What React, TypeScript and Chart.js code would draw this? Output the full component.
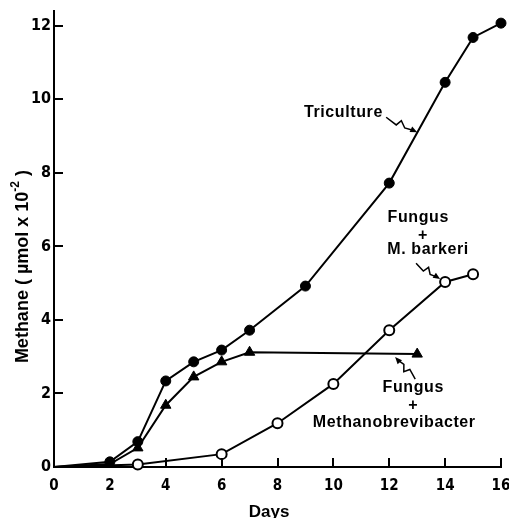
import React, { useEffect, useRef } from "react";
import { Chart, registerables } from "chart.js";

Chart.register(...registerables);

// ---- data ----
const xTickValues = [0, 2, 4, 6, 8, 10, 12, 14, 16];
const yTickValues = [0, 2, 4, 6, 8, 10, 12];

const triDays = [0, 2, 3, 4, 5, 6, 7, 9, 12, 14, 15, 16];
const triValues = [0, 0.14, 0.69, 2.34, 2.86, 3.18, 3.72, 4.92, 7.72, 10.46, 11.68, 12.07];

const brevDays = [0, 2, 3, 4, 5, 6, 7, 13];
const brevValues = [0, 0.08, 0.52, 1.68, 2.45, 2.86, 3.12, 3.07];

const barkDays = [0, 3, 6, 8, 10, 12, 14, 15];
const barkValues = [0, 0.07, 0.35, 1.19, 2.26, 3.72, 5.03, 5.24];

// annotation labels, in data coordinates (days, methane)
const labelTexts = ["Triculture", "Fungus", "+", "M. barkeri", "Fungus", "+", "Methanobrevibacter"];
const labelX = [10.36, 13.04, 13.21, 13.39, 12.86, 12.86, 12.18];
const labelY = [9.65, 6.77, 6.28, 5.9, 2.17, 1.66, 1.2];

// squiggle arrows: start -> end, in data coordinates
const arrowFromX = [11.89, 12.96, 12.93];
const arrowFromY = [9.51, 5.54, 2.39];
const arrowToX = [13.0, 13.82, 12.21];
const arrowToY = [9.1, 5.11, 2.99];

const FONT_BOLD = '"Liberation Sans", Arial, Helvetica, sans-serif';
const FONT_NARROW = '"Liberation Sans Narrow", "DejaVu Sans Condensed", "Roboto Condensed", "Liberation Sans", sans-serif';

const toPoints = (xs: number[], ys: number[]) => xs.map((x, i) => ({ x, y: ys[i] }));

const decorPlugin = {
  id: "decor",
  afterDraw(chart: any) {
    const { ctx, chartArea } = chart;
    const xs = chart.scales.x;
    const ys = chart.scales.y;
    ctx.save();
    ctx.strokeStyle = "#000";
    ctx.fillStyle = "#000";
    ctx.lineWidth = 2;

    // inward tick marks
    const tl = 9;
    xTickValues.forEach((v) => {
      if (v === 0) return;
      const px = Math.round(xs.getPixelForValue(v));
      ctx.beginPath();
      ctx.moveTo(px, chartArea.bottom);
      ctx.lineTo(px, chartArea.bottom - tl);
      ctx.stroke();
    });
    yTickValues.forEach((v) => {
      if (v === 0) return;
      const py = Math.round(ys.getPixelForValue(v));
      ctx.beginPath();
      ctx.moveTo(chartArea.left, py);
      ctx.lineTo(chartArea.left + tl, py);
      ctx.stroke();
    });

    // annotation labels
    ctx.font = `bold 16px ${FONT_BOLD}`;
    try {
      (ctx as any).letterSpacing = "0.6px";
    } catch (e) {}
    ctx.textAlign = "center";
    ctx.textBaseline = "middle";
    labelTexts.forEach((t, i) => {
      ctx.fillText(t, xs.getPixelForValue(labelX[i]), ys.getPixelForValue(labelY[i]));
    });
    try {
      (ctx as any).letterSpacing = "0px";
    } catch (e) {}

    // squiggle arrows
    ctx.lineWidth = 1.5;
    arrowFromX.forEach((_, i) => {
      const sx = xs.getPixelForValue(arrowFromX[i]);
      const sy = ys.getPixelForValue(arrowFromY[i]);
      const ex = xs.getPixelForValue(arrowToX[i]);
      const ey = ys.getPixelForValue(arrowToY[i]);
      const dx = ex - sx;
      const dy = ey - sy;
      const L = Math.hypot(dx, dy);
      const ux = dx / L;
      const uy = dy / L;
      const nx = -uy;
      const ny = ux;
      const pt = (t: number, o: number) => [sx + ux * L * t + nx * o, sy + uy * L * t + ny * o];
      const pts = [pt(0, 0), pt(0.36, 2.5), pt(0.44, -3.5), pt(0.62, 1.5), pt(0.86, 0)];
      ctx.beginPath();
      ctx.moveTo(pts[0][0], pts[0][1]);
      for (let k = 1; k < pts.length; k++) ctx.lineTo(pts[k][0], pts[k][1]);
      ctx.stroke();
      // arrow head
      const hl = 7;
      const hw = 3;
      ctx.beginPath();
      ctx.moveTo(ex, ey);
      ctx.lineTo(ex - ux * hl + nx * hw, ey - uy * hl + ny * hw);
      ctx.lineTo(ex - ux * hl - nx * hw, ey - uy * hl - ny * hw);
      ctx.closePath();
      ctx.fill();
    });

    // x axis title
    ctx.font = `bold 17px ${FONT_BOLD}`;
    ctx.textAlign = "center";
    ctx.textBaseline = "middle";
    ctx.fillText("Days", xs.getPixelForValue(7.7), chartArea.bottom + 45);

    // y axis title with superscript
    ctx.save();
    ctx.translate(chartArea.left - 31, ys.getPixelForValue(5.45));
    ctx.rotate(-Math.PI / 2);
    const mainFont = `bold 18px ${FONT_BOLD}`;
    const supFont = `bold 12px ${FONT_BOLD}`;
    const p1 = "Methane ( \u00b5mol x 10";
    const p2 = "-2";
    const p3 = " )";
    ctx.font = mainFont;
    const w1 = ctx.measureText(p1).width;
    const w3 = ctx.measureText(p3).width;
    ctx.font = supFont;
    const w2 = ctx.measureText(p2).width;
    const total = w1 + w2 + w3;
    let cx = -total / 2;
    ctx.textAlign = "left";
    ctx.textBaseline = "middle";
    ctx.font = mainFont;
    ctx.fillText(p1, cx, 0);
    cx += w1;
    ctx.font = supFont;
    ctx.fillText(p2, cx, -7);
    cx += w2;
    ctx.font = mainFont;
    ctx.fillText(p3, cx, 0);
    ctx.restore();

    ctx.restore();
  },
};

export default function App() {
  const ref = useRef<HTMLCanvasElement | null>(null);

  useEffect(() => {
    if (!ref.current) return;
    const isOrigin = (ctx: any) => !!(ctx.raw && ctx.raw.x === 0);
    const chart = new Chart(ref.current, {
      type: "scatter",
      data: {
        datasets: [
          {
            label: "Triculture",
            data: toPoints(triDays, triValues),
            showLine: true,
            borderColor: "#000",
            borderWidth: 2,
            backgroundColor: "#000",
            pointBackgroundColor: "#000",
            pointBorderColor: "#000",
            pointBorderWidth: 1,
            pointStyle: "circle",
            pointRadius: (c: any) => (isOrigin(c) ? 0 : 5),
            clip: false,
          },
          {
            label: "Fungus + Methanobrevibacter",
            data: toPoints(brevDays, brevValues),
            showLine: true,
            borderColor: "#000",
            borderWidth: 2,
            backgroundColor: "#000",
            pointBackgroundColor: "#000",
            pointBorderColor: "#000",
            pointBorderWidth: 1,
            pointStyle: "triangle",
            pointRadius: (c: any) => (isOrigin(c) ? 0 : 6),
            clip: false,
          },
          {
            label: "Fungus + M. barkeri",
            data: toPoints(barkDays, barkValues),
            showLine: true,
            borderColor: "#000",
            borderWidth: 2,
            backgroundColor: "#fff",
            pointBackgroundColor: "#fff",
            pointBorderColor: "#000",
            pointBorderWidth: 2,
            pointStyle: "circle",
            pointRadius: (c: any) => (isOrigin(c) ? 0 : 5),
            clip: false,
          },
        ],
      },
      options: {
        responsive: false,
        animation: false,
        events: [],
        layout: { padding: { top: 11, right: 8, left: 0, bottom: 0 } },
        plugins: {
          legend: { display: false },
          tooltip: { enabled: false },
          title: { display: false },
        },
        scales: {
          x: {
            type: "linear",
            min: 0,
            max: 16,
            afterBuildTicks: (s: any) => {
              s.ticks = xTickValues.map((v) => ({ value: v }));
            },
            afterFit: (s: any) => {
              s.height = 51;
              s.paddingRight = 0;
              s.paddingLeft = 0;
            },
            grid: { display: false, drawTicks: false },
            border: { display: true, color: "#000", width: 2 },
            ticks: {
              color: "#000",
              padding: 10,
              autoSkip: false,
              maxRotation: 0,
              font: { family: FONT_NARROW, size: 15, weight: "bold" },
            },
          },
          y: {
            type: "linear",
            min: 0,
            max: 12.4,
            afterBuildTicks: (s: any) => {
              s.ticks = yTickValues.map((v) => ({ value: v }));
            },
            afterFit: (s: any) => {
              s.width = 54;
              s.paddingTop = 0;
              s.paddingBottom = 0;
            },
            grid: { display: false, drawTicks: false },
            border: { display: true, color: "#000", width: 2 },
            ticks: {
              color: "#000",
              padding: 3,
              autoSkip: false,
              font: { family: FONT_NARROW, size: 16, weight: "bold" },
            },
          },
        },
      },
      plugins: [decorPlugin],
    } as any);
    return () => chart.destroy();
  }, []);

  return (
    <div style={{ position: "absolute", left: 0, top: 0, width: 509, height: 518, background: "#fff" }}>
      <canvas ref={ref} width={509} height={518} style={{ display: "block" }} />
    </div>
  );
}
